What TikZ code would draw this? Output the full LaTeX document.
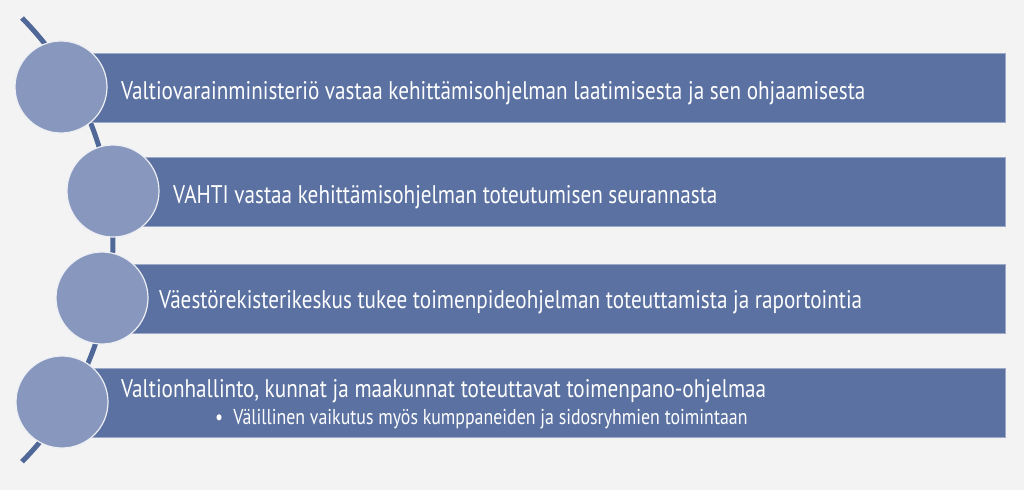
\documentclass[tikz,border=0pt]{standalone}
\usepackage{fontspec}
\setmainfont{PT Sans}[FakeStretch=0.83]
\usepackage{tikz}
\usetikzlibrary{positioning}
\definecolor{pagebg}{HTML}{F3F3F3}
\definecolor{barblue}{HTML}{5A71A1}
\definecolor{ballblue}{HTML}{8797BD}
\definecolor{spineblue}{HTML}{4F6898}
\tikzset{
  bar/.style={fill=barblue, draw=barblue!60!white, line width=0.6pt},
  ball/.style={circle, minimum size=92pt, inner sep=0pt, fill=ballblue, draw=white!85!ballblue, line width=1.2pt},
  bartext/.style={anchor=base west, inner sep=0pt, text=white, font=\fontsize{25.5}{28}\selectfont},
  subtext/.style={anchor=base west, inner sep=0pt, text=white, font=\fontsize{21.5}{24}\selectfont},
}

\begin{document}
\begin{tikzpicture}[x=1pt, y=-1pt]

  \useasboundingbox[fill=pagebg] (0,0) rectangle (1024,490);

  \newcommand\R{316};

  % spine
  \draw[spineblue, line width=5pt] (22,18) arc[start angle=-44.6, end angle=44.6, radius=\R];

  % bars
  \draw[bar] (61,53) rectangle (1005,122);
  \draw[bar] (113,157) rectangle (1005,226);
  \draw[bar] (102,264) rectangle (1005,333);
  \draw[bar] (62,368) rectangle (1005,437);

  % balls
  \node[ball] (b1) at (61,87) {};
  \node[ball] (b2) at (113,191) {};
  \node[ball] (b3) at (102,298) {};
  \node[ball] (b4) at (62,402) {};

  % texts
  \node[bartext] (t1) at (121,99) {Valtiovarainministeriö vastaa kehittämisohjelman laatimisesta ja sen ohjaamisesta};
  \node[bartext] (t2) at (173,203) {VAHTI vastaa kehittämisohjelman toteutumisen seurannasta};
  \node[bartext] (t3) at (159,308) {Väestörekisterikeskus tukee toimenpideohjelman toteuttamista ja raportointia};
  \node[bartext] (t4) at (121,397) {Valtionhallinto, kunnat ja maakunnat toteuttavat toimenpano-ohjelmaa};
  \node[subtext] (s4) at (215,424) {\textbullet\hspace{10pt}Välillinen vaikutus myös kumppaneiden ja sidosryhmien toimintaan};

\end{tikzpicture}
\end{document}
